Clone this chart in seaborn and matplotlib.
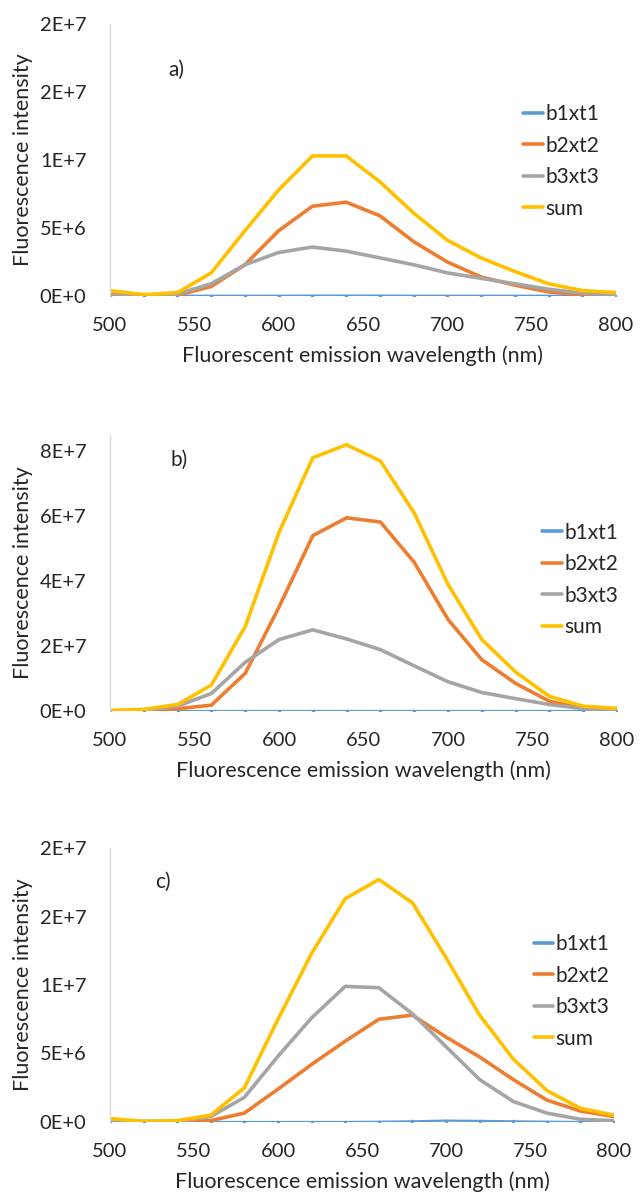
import numpy as np
import pandas as pd
import seaborn as sns
import matplotlib
matplotlib.use("Agg")
import matplotlib.pyplot as plt
from matplotlib.ticker import FuncFormatter

# wavelengths (nm), one point every 20 nm
wavelength = [500, 520, 540, 560, 580, 600, 620, 640, 660, 680, 700, 720, 740, 760, 780, 800]
series_names = ["b1xt1", "b2xt2", "b3xt3", "sum"]

# panel a (values in units of 1E6)
a_b1xt1 = [0.02, 0.02, 0.02, 0.02, 0.02, 0.02, 0.03, 0.03, 0.03, 0.02, 0.02, 0.02, 0.02, 0.02, 0.02, 0.02]
a_b2xt2 = [0.1, 0.05, 0.05, 0.7, 2.3, 4.8, 6.6, 6.9, 5.9, 4.0, 2.5, 1.4, 0.8, 0.3, 0.1, 0.05]
a_b3xt3 = [0.2, 0.05, 0.15, 0.9, 2.3, 3.2, 3.6, 3.3, 2.8, 2.3, 1.7, 1.3, 0.9, 0.5, 0.2, 0.1]
a_sum = [0.4, 0.1, 0.25, 1.7, 4.8, 7.8, 10.3, 10.3, 8.4, 6.1, 4.1, 2.8, 1.8, 0.9, 0.4, 0.25]

# panel b (values in units of 1E7)
b_b1xt1 = [0.0, 0.0, 0.0, 0.0, 0.0, 0.0, 0.0, 0.0, 0.0, 0.0, 0.0, 0.0, 0.0, 0.0, 0.0, 0.0]
b_b2xt2 = [0.0, 0.01, 0.07, 0.18, 1.16, 3.2, 5.4, 5.95, 5.82, 4.58, 2.82, 1.58, 0.85, 0.3, 0.08, 0.03]
b_b3xt3 = [0.0, 0.01, 0.15, 0.54, 1.5, 2.2, 2.5, 2.22, 1.89, 1.39, 0.9, 0.57, 0.38, 0.2, 0.07, 0.03]
b_sum = [0.02, 0.05, 0.2, 0.8, 2.6, 5.5, 7.8, 8.2, 7.7, 6.1, 3.9, 2.2, 1.2, 0.45, 0.15, 0.08]

# panel c (values in units of 1E6)
c_b1xt1 = [0.0, 0.0, 0.0, 0.0, 0.0, 0.0, 0.0, 0.0, 0.02, 0.05, 0.1, 0.08, 0.05, 0.02, 0.0, 0.0]
c_b2xt2 = [0.0, 0.0, 0.0, 0.1, 0.65, 2.4, 4.2, 5.9, 7.5, 7.8, 6.2, 4.75, 3.1, 1.6, 0.8, 0.4]
c_b3xt3 = [0.1, 0.05, 0.05, 0.4, 1.8, 4.8, 7.6, 9.9, 9.8, 7.9, 5.5, 3.1, 1.5, 0.65, 0.2, 0.1]
c_sum = [0.25, 0.05, 0.1, 0.5, 2.5, 7.5, 12.3, 16.3, 17.7, 16.0, 12.0, 7.8, 4.6, 2.3, 1.0, 0.5]

y_ticks_a = [0, 5e6, 1e7, 1.5e7, 2e7]
y_ticks_b = [0, 2e7, 4e7, 6e7, 8e7]
y_ticks_c = [0, 5e6, 1e7, 1.5e7, 2e7]
x_ticks = [500, 550, 600, 650, 700, 750, 800]

palette = {"b1xt1": "#5B9BD5", "b2xt2": "#ED7D31", "b3xt3": "#A5A5A5", "sum": "#FFC000"}
TEXT = "#262626"


def excel_sci(v, pos=None):
    # mimic Excel number format "0E+0"
    if v == 0:
        return "0E+0"
    e = int(np.floor(np.log10(abs(v))))
    m = round(v / 10 ** e)
    if m == 10:
        m, e = 1, e + 1
    return f"{m}E+{e}"


def make_frame(scale, cols):
    rows = []
    for name, vals in zip(series_names, cols):
        for w, v in zip(wavelength, vals):
            rows.append({"wavelength": w, "intensity": v * scale, "series": name})
    return pd.DataFrame(rows)


def draw_panel(ax, df, yticks, ymax, tag, tag_pos, xlabel, leg_anchor, cross_ticks):
    for name in series_names:
        sub = df[df["series"] == name]
        lw = 1.6 if name == "b1xt1" else 2.6
        sns.lineplot(data=sub, x="wavelength", y="intensity", ax=ax, color=palette[name],
                     linewidth=lw, label=name, sort=False,
                     marker="o" if name == "b1xt1" else None, markersize=2.5,
                     markeredgewidth=0, solid_joinstyle="round", solid_capstyle="round")
    ax.set_xlim(500, 800)
    ax.set_ylim(0, ymax)
    ax.set_xticks(x_ticks)
    ax.set_yticks(yticks)
    ax.yaxis.set_major_formatter(FuncFormatter(excel_sci))
    ax.set_xlabel(xlabel, fontsize=15.5, color=TEXT, labelpad=8)
    ax.set_ylabel("Fluorescence intensity", fontsize=15.5, color=TEXT, labelpad=5)
    ax.tick_params(axis="x", length=0, pad=15, labelsize=14.5, colors=TEXT)
    if cross_ticks:
        ax.tick_params(axis="y", direction="inout", length=12, width=1, color="#D9D9D9",
                       pad=11, labelsize=14.5, labelcolor=TEXT)
    else:
        ax.tick_params(axis="y", length=0, pad=17, labelsize=14.5, labelcolor=TEXT)
    for s in ["top", "right", "bottom"]:
        ax.spines[s].set_visible(False)
    ax.spines["left"].set_color("#D9D9D9")
    ax.spines["left"].set_linewidth(1)
    ax.grid(False)
    ax.text(tag_pos[0], tag_pos[1], tag, transform=ax.transAxes, fontsize=15, color=TEXT,
            va="center")
    leg = ax.legend(loc="upper left", bbox_to_anchor=leg_anchor, frameon=False, fontsize=15,
                    handlelength=0.95, handletextpad=0.1, labelspacing=0.55, borderpad=0)
    for t in leg.get_texts():
        t.set_color(TEXT)
    for h in leg.get_lines():
        h.set_linewidth(2.6)
        h.set_marker("")


sns.set_theme(style="white")
plt.rcParams["font.family"] = ["Lato", "DejaVu Sans"]

fig = plt.figure(figsize=(6.44, 12), dpi=100)
ax_a = fig.add_axes([110 / 644, 1 - 296 / 1200, 506 / 644, 272 / 1200])
ax_b = fig.add_axes([110 / 644, 1 - 711 / 1200, 507 / 644, 276 / 1200])
ax_c = fig.add_axes([110 / 644, 1 - 1122 / 1200, 504 / 644, 274 / 1200])

draw_panel(ax_a, make_frame(1e6, [a_b1xt1, a_b2xt2, a_b3xt3, a_sum]), y_ticks_a, 2e7,
           "a)", (0.115, 0.83), "Fluorescent emission wavelength (nm)", (0.796, 0.743), True)
draw_panel(ax_b, make_frame(1e7, [b_b1xt1, b_b2xt2, b_b3xt3, b_sum]), y_ticks_b, 8.5e7,
           "b)", (0.12, 0.91), "Fluorescence emission wavelength (nm)", (0.832, 0.72), False)
draw_panel(ax_c, make_frame(1e6, [c_b1xt1, c_b2xt2, c_b3xt3, c_sum]), y_ticks_c, 2e7,
           "c)", (0.09, 0.876), "Fluorescence emission wavelength (nm)", (0.82, 0.723), False)

fig.savefig("out.png", dpi=100, facecolor="white")
